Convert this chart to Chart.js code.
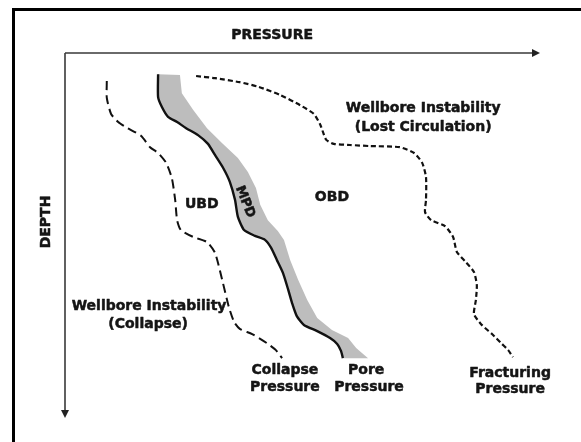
<!DOCTYPE html>
<html>
<head>
<meta charset="utf-8">
<script src="https://cdn.jsdelivr.net/npm/chart.js@4/dist/chart.umd.min.js"></script>
<style>
html,body{margin:0;padding:0;background:#fff;}
#wrap{width:581px;height:442px;position:relative;}
</style>
</head>
<body>
<div id="wrap"><canvas id="c" width="581" height="442"></canvas></div>
<script>
// Schematic values: [pressure (relative 0-100), depth (relative 0-100)]
const collapsePressure = [
  [8.8,7.7],[8.8,12.3],[9.7,16.7],[11.2,18.9],[12.8,20.3],[16.0,22.7],[17.9,25.8],
  [19.6,27.4],[21.3,30.1],[22.5,34.3],[23.2,40.3],[23.6,45.8],[24.4,48.5],[27.0,50.4],
  [29.9,51.8],[31.6,54.8],[33.1,62.2],[34.5,69.6],[35.6,73.7],[36.8,75.6],[39.4,77.0],
  [42.5,79.5],[44.4,81.4],[45.7,83.6]
];
const porePressure = [
  [19.6,5.8],[19.6,12.1],[20.4,14.8],[21.7,17.5],[23.6,18.9],[25.5,20.6],[28.0,22.5],
  [30.1,24.9],[31.6,28.0],[33.3,31.5],[34.7,35.3],[35.8,40.3],[36.4,44.9],[37.7,48.5],
  [40.0,50.1],[42.1,51.2],[43.4,53.4],[44.6,56.7],[45.9,60.3],[47.0,64.9],[47.8,68.5],
  [48.8,72.1],[50.3,74.5],[53.1,76.2],[55.8,78.1],[57.3,79.7],[58.1,81.6],[58.5,83.6]
];
const mpdUpperBound = [
  [24.2,6.0],[24.6,11.0],[27.0,15.6],[29.9,20.6],[33.1,24.7],[36.4,28.8],[38.5,32.6],
  [40.2,37.0],[41.1,41.6],[42.7,45.8],[44.8,48.8],[46.1,51.2],[47.4,56.7],[49.1,62.2],
  [51.0,67.7],[53.1,72.6],[56.2,75.9],[59.6,78.1],[61.3,80.8],[63.8,83.6]
];
const fracturingPressure = [
  [27.6,6.3],[31.6,6.9],[36.8,8.0],[40.8,9.3],[45.3,11.5],[49.5,14.3],[52.4,16.7],
  [53.7,19.5],[54.3,21.6],[55.0,23.8],[56.6,24.9],[60.0,25.2],[64.2,25.5],[70.5,25.8],
  [73.5,27.4],[75.2,30.1],[76.0,34.0],[76.0,40.3],[75.8,43.6],[77.1,45.8],[80.0,47.4],
  [81.7,50.4],[82.5,54.5],[84.4,57.3],[86.1,60.0],[86.7,63.6],[86.5,67.7],[86.1,71.5],
  [87.6,74.3],[89.9,77.0],[92.0,79.7],[93.3,81.4],[94.3,83.3]
];
const axisTitles = ['PRESSURE', 'DEPTH'];
const regionLabels = ['UBD', 'MPD', 'OBD'];

const pts = a => a.map(([x, y]) => ({x, y}));
// closed band polygon: pore line down, upper bound back up
const mpdBand = pts(porePressure).concat(pts(mpdUpperBound).reverse());

const FONT = 'bold 14px "DejaVu Sans"';
const INK = '#151515';

const schematic = {
  id: 'schematic',
  beforeDraw(chart) {
    const ctx = chart.ctx;
    ctx.save();
    ctx.fillStyle = '#fff';
    ctx.fillRect(0, 0, chart.width, chart.height);
    // outer frame (left + top visible)
    ctx.strokeStyle = '#000';
    ctx.lineWidth = 3;
    ctx.strokeRect(13.5, 9.5, chart.width + 20, chart.height + 20);
    ctx.restore();
  },
  afterDraw(chart) {
    const ctx = chart.ctx;
    const xs = chart.scales.x, ys = chart.scales.y;
    const X = v => xs.getPixelForValue(v), Y = v => ys.getPixelForValue(v);
    const x0 = X(0), x1 = X(100), y0 = Y(0), y1 = Y(100);
    ctx.save();
    ctx.strokeStyle = '#3a3a3a';
    ctx.fillStyle = '#222';
    ctx.lineWidth = 1.6;
    ctx.beginPath();
    ctx.moveTo(x0, y0); ctx.lineTo(x1 - 5, y0);
    ctx.moveTo(x0, y0); ctx.lineTo(x0, y1 - 5);
    ctx.stroke();
    // arrow heads
    ctx.beginPath();
    ctx.moveTo(x1, y0); ctx.lineTo(x1 - 8, y0 - 4); ctx.lineTo(x1 - 8, y0 + 4); ctx.closePath();
    ctx.fill();
    ctx.beginPath();
    ctx.moveTo(x0, y1); ctx.lineTo(x0 - 4, y1 - 8); ctx.lineTo(x0 + 4, y1 - 8); ctx.closePath();
    ctx.fill();

    ctx.fillStyle = INK;
    ctx.strokeStyle = INK;
    ctx.lineWidth = 0.5;
    ctx.lineJoin = 'round';
    ctx.font = FONT;
    ctx.textAlign = 'center';
    ctx.textBaseline = 'middle';
    const txt = (t, x, y) => { ctx.fillText(t, x, y); ctx.strokeText(t, x, y); };
    // axis titles
    txt(axisTitles[0], X(43.6), y0 - 18);
    ctx.save();
    ctx.translate(x0 - 19, Y(46.3));
    ctx.rotate(-Math.PI / 2);
    txt(axisTitles[1], 0, 0);
    ctx.restore();

    const put = (t, px, dy) => txt(t, X(px), Y(dy));
    put('Wellbore Instability', 75.4, 15.3);
    put('(Lost Circulation)', 75.4, 20.3);
    put(regionLabels[2], 56.2, 39.5);
    put(regionLabels[0], 28.8, 41.4);
    put('Wellbore Instability', 17.7, 69.3);
    put('(Collapse)', 17.5, 74.3);
    put('Collapse', 46.3, 86.9);
    put('Pressure', 46.3, 91.5);
    put('Pore', 63.4, 86.9);
    put('Pressure', 64.0, 91.5);
    put('Fracturing', 93.7, 87.7);
    put('Pressure', 93.7, 92.1);
    // rotated MPD label inside band
    ctx.save();
    ctx.translate(X(37.9), Y(40.8));
    ctx.rotate(68 * Math.PI / 180);
    ctx.font = 'bold 13px "DejaVu Sans"';
    txt(regionLabels[1], 0, 0);
    ctx.restore();
    ctx.restore();
  }
};

new Chart(document.getElementById('c'), {
  type: 'scatter',
  data: {
    datasets: [
      {
        label: 'Pore Pressure',
        data: pts(porePressure),
        showLine: true,
        borderColor: '#111',
        borderWidth: 2.4,
        pointRadius: 0,
        tension: 0.2,
        fill: false,
        order: 1
      },
      {
        label: 'Collapse Pressure',
        data: pts(collapsePressure),
        showLine: true,
        borderColor: '#111',
        borderWidth: 2,
        borderDash: [9, 5],
        pointRadius: 0,
        tension: 0.2,
        fill: false,
        order: 2
      },
      {
        label: 'Fracturing Pressure',
        data: pts(fracturingPressure),
        showLine: true,
        borderColor: '#111',
        borderWidth: 2.2,
        borderDash: [5, 3],
        pointRadius: 0,
        tension: 0.2,
        fill: false,
        order: 3
      },
      {
        label: 'MPD',
        data: mpdBand,
        showLine: true,
        borderWidth: 0,
        borderColor: 'rgba(0,0,0,0)',
        backgroundColor: '#bdbdbd',
        pointRadius: 0,
        tension: 0,
        fill: 'shape',
        order: 10
      }
    ]
  },
  options: {
    responsive: false,
    animation: false,
    devicePixelRatio: 1,
    layout: { padding: { left: 65, top: 53, right: 41, bottom: 24 } },
    scales: {
      x: { type: 'linear', min: 0, max: 100, display: false },
      y: { type: 'linear', min: 0, max: 100, reverse: true, display: false }
    },
    plugins: {
      legend: { display: false },
      tooltip: { enabled: false }
    }
  },
  plugins: [schematic]
});
</script>
</body>
</html>
